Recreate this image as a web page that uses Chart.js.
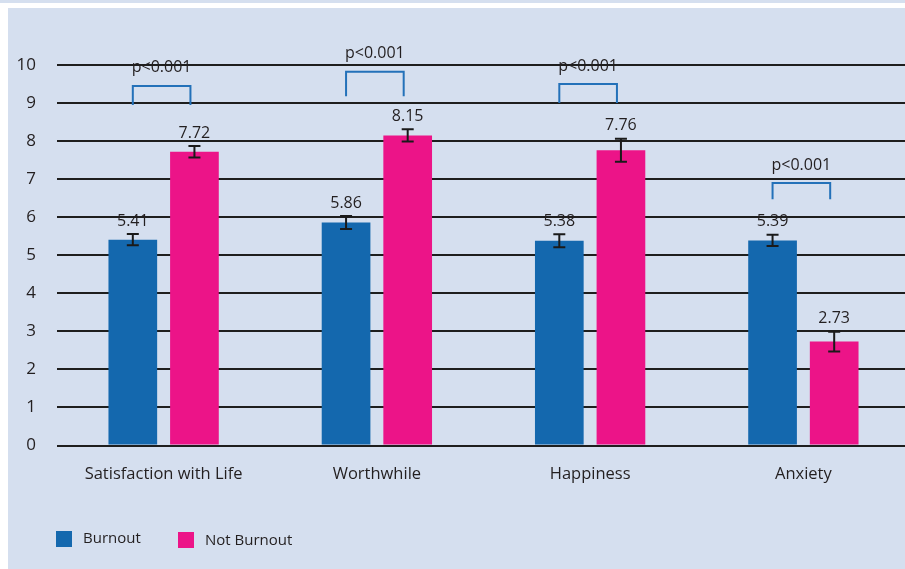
<!DOCTYPE html>
<html>
<head>
<meta charset="utf-8">
<script src="https://cdn.jsdelivr.net/npm/chart.js@4.4.1/dist/chart.umd.min.js"></script>
<style>
  html, body { margin: 0; padding: 0; background: #fff; overflow: hidden; width: 905px; height: 569px; }
  #strip { position: absolute; left: 0; top: 0; width: 905px; height: 3px; background: #d5dfef; }
  #panel { position: absolute; left: 8px; top: 8px; width: 902px; height: 561px; background: #d5dfef; }
  #chart { position: absolute; left: 0; top: 0; }
</style>
</head>
<body>
<div id="strip"></div>
<div id="panel"><canvas id="chart" width="902" height="561"></canvas></div>
<script>
const categories = ["Satisfaction with Life", "Worthwhile", "Happiness", "Anxiety"];
const burnout = [5.41, 5.86, 5.38, 5.39];
const notBurnout = [7.72, 8.15, 7.76, 2.73];
const burnoutErr = [0.15, 0.17, 0.17, 0.15];
const notBurnoutErr = [0.15, 0.16, 0.30, 0.26];
const yTicks = [0, 1, 2, 3, 4, 5, 6, 7, 8, 9, 10];
const pLabel = "p<0.001";
// significance brackets: top of bracket and end of legs, in axis units
const bracketTop = [9.45, 9.82, 9.5, 6.9];
const bracketFoot = [8.95, 9.18, 9.0, 6.47];

const FONT = "'Open Sans', sans-serif";
const TEXT = "#231f20";
const errs = [burnoutErr, notBurnoutErr];

// error bars + value labels above each bar
const errorBars = {
  id: "errorBars",
  afterDatasetsDraw(chart) {
    const ctx = chart.ctx;
    const y = chart.scales.y;
    chart.data.datasets.forEach((ds, di) => {
      chart.getDatasetMeta(di).data.forEach((bar, i) => {
        const v = ds.data[i], e = errs[di][i];
        const top = y.getPixelForValue(v + e), bot = y.getPixelForValue(v - e);
        ctx.save();
        ctx.strokeStyle = "#1a1a1a";
        ctx.lineWidth = 2;
        ctx.beginPath();
        ctx.moveTo(bar.x, top); ctx.lineTo(bar.x, bot);
        ctx.moveTo(bar.x - 6, top); ctx.lineTo(bar.x + 6, top);
        ctx.moveTo(bar.x - 6, bot); ctx.lineTo(bar.x + 6, bot);
        ctx.stroke();
        ctx.fillStyle = TEXT;
        ctx.font = "16px " + FONT;
        ctx.textAlign = "center";
        ctx.textBaseline = "bottom";
        ctx.fillText(v.toFixed(2), bar.x, top - 5);
        ctx.restore();
      });
    });
  }
};

const brackets = {
  id: "brackets",
  afterDatasetsDraw(chart) {
    const ctx = chart.ctx;
    const y = chart.scales.y;
    const a = chart.getDatasetMeta(0).data, b = chart.getDatasetMeta(1).data;
    categories.forEach((c, i) => {
      const x1 = a[i].x, x2 = b[i].x - 4;
      const yt = y.getPixelForValue(bracketTop[i]), yf = y.getPixelForValue(bracketFoot[i]);
      ctx.save();
      ctx.strokeStyle = "#2371b9";
      ctx.lineWidth = 2;
      ctx.beginPath();
      ctx.moveTo(x1, yf); ctx.lineTo(x1, yt); ctx.lineTo(x2, yt); ctx.lineTo(x2, yf);
      ctx.stroke();
      ctx.fillStyle = TEXT;
      ctx.font = "16px " + FONT;
      ctx.textAlign = "center";
      ctx.textBaseline = "middle";
      ctx.fillText(pLabel, (x1 + x2) / 2, yt - 18);
      ctx.restore();
    });
  }
};

// legend along the bottom left
const bottomLegend = {
  id: "bottomLegend",
  afterDraw(chart) {
    const ctx = chart.ctx;
    const xs = [48, 170];
    chart.data.datasets.forEach((ds, i) => {
      ctx.save();
      ctx.fillStyle = ds.backgroundColor;
      ctx.fillRect(xs[i], 523 + i * 1, 16, 16);
      ctx.fillStyle = TEXT;
      ctx.font = "15px " + FONT;
      ctx.textBaseline = "middle";
      ctx.fillText(ds.label, xs[i] + 27, 531 + i * 2);
      ctx.restore();
    });
  }
};

new Chart(document.getElementById("chart"), {
  type: "bar",
  data: {
    labels: categories,
    datasets: [
      { label: "Burnout", data: burnout, backgroundColor: "#1468ae" },
      { label: "Not Burnout", data: notBurnout, backgroundColor: "#ec1488" }
    ]
  },
  options: {
    responsive: false,
    animation: false,
    categoryPercentage: 0.578,
    barPercentage: 0.79,
    layout: { padding: { top: 57, right: 0, bottom: 0, left: 0 } },
    plugins: {
      legend: { display: false },
      tooltip: { enabled: false }
    },
    scales: {
      x: {
        grid: { display: false },
        border: { display: false },
        afterFit(s) { s.height = 123.5; },
        ticks: { color: TEXT, font: { family: FONT, size: 16.5 }, padding: 11 }
      },
      y: {
        min: 0,
        max: 10,
        afterFit(s) { s.width = 49; },
        afterBuildTicks(s) { s.ticks = yTicks.map(v => ({ value: v })); },
        border: { display: false },
        grid: { color: "#1e1e1e", lineWidth: 2, drawTicks: false },
        ticks: { color: TEXT, font: { family: FONT, size: 17 }, padding: 21 }
      }
    }
  },
  plugins: [errorBars, brackets, bottomLegend]
});
</script>
</body>
</html>
